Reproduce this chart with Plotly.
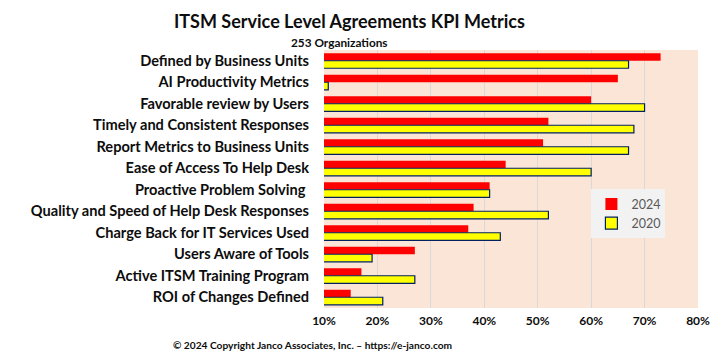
import plotly.graph_objects as go

categories = [
    "Defined by Business Units",
    "AI Productivity Metrics",
    "Favorable review by Users",
    "Timely and Consistent Responses",
    "Report Metrics to Business Units",
    "Ease of Access To Help Desk",
    "Proactive Problem Solving ",
    "Quality and Speed of Help Desk Responses",
    "Charge Back for IT Services Used",
    "Users Aware of Tools",
    "Active ITSM Training Program",
    "ROI of Changes Defined",
]
values_2024 = [73, 65, 60, 52, 51, 44, 41, 38, 37, 27, 17, 15]
values_2020 = [67, 10.8, 70, 68, 67, 60, 41, 52, 43, 19, 27, 21]
tick_vals = [10, 20, 30, 40, 50, 60, 70, 80]
tick_text = ["10%", "20%", "30%", "40%", "50%", "60%", "70%", "80%"]

FONT = "Lato"

fig = go.Figure()
fig.add_trace(go.Bar(
    y=categories, x=values_2024, orientation="h", name="2024",
    marker=dict(color="#FF0000", line=dict(width=0)),
))
fig.add_trace(go.Bar(
    y=categories, x=values_2020, orientation="h", name="2020",
    marker=dict(color="#FFFF00", line=dict(color="#002060", width=1.2)),
))

fig.update_layout(
    width=722, height=352,
    margin=dict(l=324, r=20, t=50, b=44),
    paper_bgcolor="white",
    plot_bgcolor="#FBE5D6",
    barmode="group",
    bargap=0.3,
    bargroupgap=0,
    font=dict(family=FONT, color="#0d0d0d"),
    showlegend=True,
    legend=dict(
        x=0.715, y=0.46, xanchor="left", yanchor="top",
        bgcolor="#F2F2F2", borderwidth=0,
        font=dict(family=FONT, size=12.5, color="#595959"),
        itemwidth=30, tracegroupgap=0,
    ),
    xaxis=dict(
        range=[10, 80], tickvals=tick_vals, ticktext=tick_text,
        showgrid=True, gridcolor="#D9D9D9", gridwidth=1,
        zeroline=False, showline=False,
        tickfont=dict(family=FONT, size=12, color="#0d0d0d", weight="bold"),
        ticks="", ticklabelstandoff=4,
    ),
    yaxis=dict(
        autorange="reversed",
        tickfont=dict(family=FONT, size=14.6, color="#0d0d0d", weight="bold"),
        ticks="", ticklabelstandoff=14,
        showgrid=False, zeroline=False,
    ),
    annotations=[
        dict(text="ITSM Service Level Agreements KPI Metrics", xref="paper", yref="paper",
             x=0.069, y=1.114, xanchor="center", yanchor="middle", showarrow=False,
             font=dict(family=FONT, size=18, color="#0d0d0d", weight="bold")),
        dict(text="253 Organizations", xref="paper", yref="paper",
             x=0.042, y=1.03, xanchor="center", yanchor="middle", showarrow=False,
             font=dict(family=FONT, size=11.8, color="#0d0d0d", weight="bold")),
        dict(text="© 2024 Copyright Janco Associates, Inc. – https://e-janco.com", xref="paper", yref="paper",
             x=-0.032, y=-0.143, xanchor="center", yanchor="middle", showarrow=False,
             font=dict(family=FONT, size=10.2, color="#0d0d0d", weight="bold")),
    ],
)

fig.write_html("out.html")
